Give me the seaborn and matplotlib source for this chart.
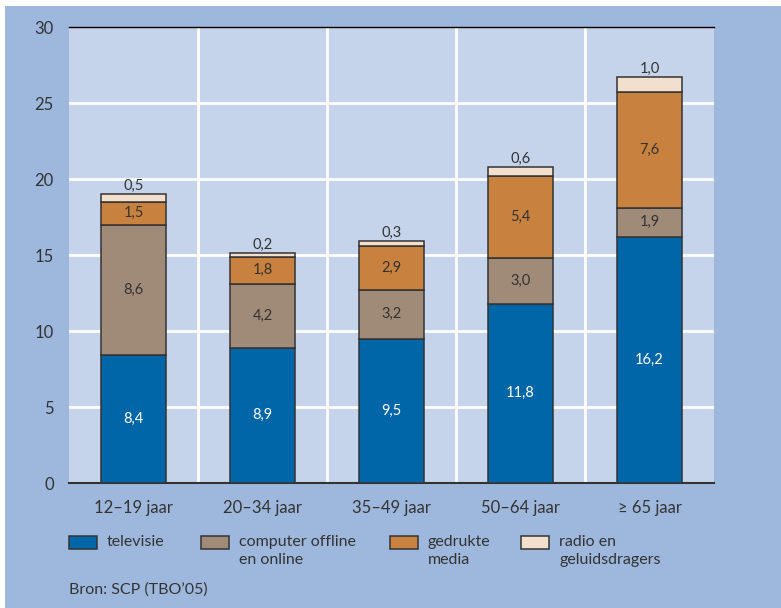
import pandas as pd
import matplotlib
matplotlib.use('Agg')
import matplotlib.pyplot as plt
import seaborn as sns
from matplotlib.patches import Rectangle
from matplotlib.ticker import FixedLocator

# ---- Data ----
age_groups = ['12–19 jaar', '20–34 jaar', '35–49 jaar', '50–64 jaar', '≥ 65 jaar']
televisie = [8.4, 8.9, 9.5, 11.8, 16.2]
computer = [8.6, 4.2, 3.2, 3.0, 1.9]
gedrukt = [1.5, 1.8, 2.9, 5.4, 7.6]
radio = [0.5, 0.2, 0.3, 0.6, 1.0]

series_names = ['televisie', 'computer offline\nen online', 'gedrukte\nmedia', 'radio en\ngeluidsdragers']
series_values = [televisie, computer, gedrukt, radio]
colors = ['#0066a8', '#a08a78', '#c8813e', '#f3dfcd']
label_colors = ['white', '#333333', '#333333', '#333333']

outer_bg = '#9db8dc'
plot_bg = '#c5d4ea'
text_col = '#333333'
edge_col = '#333333'

sns.set_style('white')
plt.rcParams['font.family'] = ['Lato', 'DejaVu Sans']

W, H = 781, 608
fig = plt.figure(figsize=(W / 100, H / 100), dpi=100)
fig.patch.set_facecolor('white')
fig.patches.append(Rectangle((5 / W, 0), 1, 1 - 6 / H, transform=fig.transFigure,
                             facecolor=outer_bg, edgecolor='none', zorder=-10))

ax = fig.add_axes([69 / W, 1 - 483 / H, (714 - 69) / W, (483 - 27) / H])
ax.set_facecolor(plot_bg)

bottom = [0.0] * len(age_groups)
for i, (name, vals) in enumerate(zip(series_names, series_values)):
    df = pd.DataFrame({'groep': age_groups, 'waarde': vals})
    sns.barplot(data=df, x='groep', y='waarde', ax=ax, color=colors[i], width=0.5,
                bottom=bottom, edgecolor=edge_col, linewidth=1.1,
                saturation=1, zorder=3)
    cont = ax.containers[-1]
    labels = [f'{v:.1f}'.replace('.', ',') for v in vals]
    if i == 3:
        ax.bar_label(cont, labels=labels, padding=1, fontsize=10.5, color=text_col)
    else:
        ax.bar_label(cont, labels=labels, label_type='center', fontsize=10.5,
                     color=label_colors[i])
    bottom = [b + v for b, v in zip(bottom, vals)]

ax.set_xlim(-0.5, 4.5)
ax.set_ylim(0, 30)
ax.set_yticks(range(0, 31, 5))
ax.set_xlabel('')
ax.set_ylabel('')

# grid: horizontal white lines, vertical white lines between groups
for y in range(5, 30, 5):
    ax.axhline(y, color='white', linewidth=2, zorder=1)
for x in [0.5, 1.5, 2.5, 3.5]:
    ax.axvline(x, color='white', linewidth=2, zorder=1)

ax.xaxis.set_minor_locator(FixedLocator([-0.5, 0.5, 1.5, 2.5, 3.5, 4.5]))
ax.tick_params(axis='x', which='major', length=0, pad=12, labelsize=12, labelcolor=text_col)
ax.tick_params(axis='x', which='minor', length=6, width=1.2, color=edge_col, direction='out')
ax.tick_params(axis='y', length=0, pad=11, labelsize=12, labelcolor=text_col)

for side in ['left', 'right']:
    ax.spines[side].set_visible(False)
ax.spines['top'].set_color('black')
ax.spines['top'].set_linewidth(1)
ax.spines['bottom'].set_color(edge_col)
ax.spines['bottom'].set_linewidth(1.5)

# ---- legend (handles aligned with first text line) ----
legend_x = [69, 201, 390, 521]
for lx, name, col in zip(legend_x, series_names, colors):
    fig.patches.append(Rectangle((lx / W, 1 - 549 / H), 28 / W, 13 / H,
                                 transform=fig.transFigure, facecolor=col,
                                 edgecolor=edge_col, linewidth=1.1))
    fig.text((lx + 38) / W, 1 - 535 / H, name, fontsize=11.5, color=text_col,
             va='top', ha='left', linespacing=1.4)

fig.text(69 / W, 1 - 590 / H, 'Bron: SCP (TBO’05)', fontsize=11.5, color=text_col, va='center')

fig.savefig('out.png', dpi=100, facecolor=fig.get_facecolor())
